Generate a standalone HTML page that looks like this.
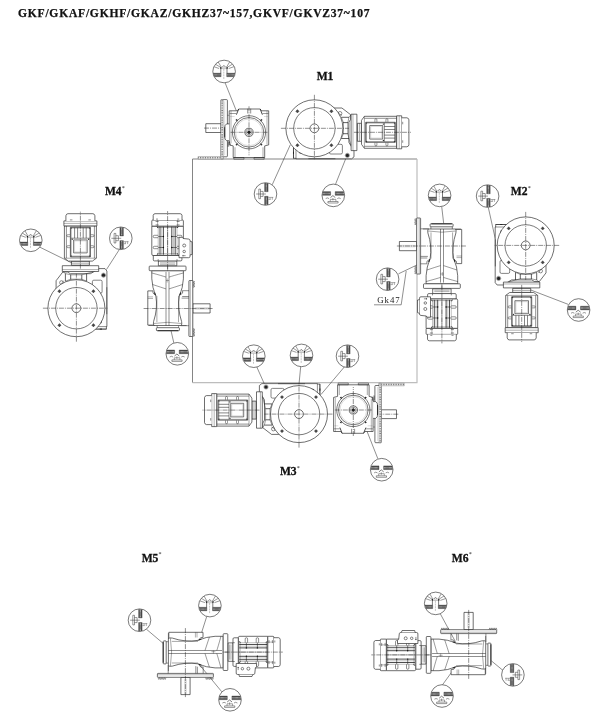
<!DOCTYPE html>
<html lang="en"><head><meta charset="utf-8"><title>GKF mounting positions</title>
<style>html,body{margin:0;padding:0;background:#fff;overflow:hidden}svg{display:block}</style></head>
<body>
<svg width="600" height="724" viewBox="0 0 600 724" fill="none" stroke="#202020" stroke-width="0.65" stroke-linecap="butt" stroke-linejoin="round">
<defs>
<pattern id="hat" width="1.6" height="1.6" patternUnits="userSpaceOnUse"><rect width="1.6" height="1.6" fill="#fff"/><path d="M0,0.8 H0.8 M0.8,0 V0.8" stroke="#888" stroke-width="0.45"/></pattern>
<pattern id="hat2" width="1.2" height="1.2" patternUnits="userSpaceOnUse"><rect width="1.2" height="1.2" fill="#a8a8a8"/><path d="M0,0.6 H1.2" stroke="#555" stroke-width="0.5"/></pattern>
<clipPath id="sc0"><circle cx="0" cy="0" r="11.0"/></clipPath>
</defs>
<path d="M192.5,382.7 V159 H417" stroke-width="0.8" stroke="#666"/>
<path d="M417,159 V382.7 H192.5" stroke-width="1.2" stroke="#bdbdbd"/>
<path d="M225.1,82.8 L236.4,111" stroke-width="0.5"/>
<path d="M272.2,184.8 L290.3,144.8" stroke-width="0.5"/>
<path d="M335.5,184.3 L346.6,156.5" stroke-width="0.5"/>
<path d="M39.5,247 L72,263" stroke-width="0.5"/>
<path d="M119.3,249.6 L106.5,269.5" stroke-width="0.5"/>
<path d="M173.8,342.8 L171.1,331" stroke-width="0.5"/>
<path d="M441.7,206.5 L443.7,223.5" stroke-width="0.5"/>
<path d="M488.3,207.4 L496.9,246" stroke-width="0.5"/>
<path d="M398.5,273.8 L420,263.5" stroke-width="0.5"/>
<path d="M568.3,304.4 L530.8,290" stroke-width="0.5"/>
<path d="M256.8,367 L265.3,386" stroke-width="0.5"/>
<path d="M300.7,366.6 L298.9,385.3" stroke-width="0.5"/>
<path d="M344.3,367 L321,394.5" stroke-width="0.5"/>
<path d="M377.8,458.6 L366.5,430" stroke-width="0.5"/>
<path d="M146.4,629.2 L163.3,643.5" stroke-width="0.5"/>
<path d="M206.7,616.6 L200.2,637" stroke-width="0.5"/>
<path d="M221.8,691.8 L200.2,665.6" stroke-width="0.5"/>
<path d="M440.3,613.8 L455.5,641.8" stroke-width="0.5"/>
<path d="M442.5,684.8 L454.4,668.4" stroke-width="0.5"/>
<path d="M503.2,670.6 L491.3,660.8" stroke-width="0.5"/>
<g transform="translate(249,132.3)">
<rect x="-51" y="24.2" width="25.4" height="2.5" stroke-width="0.4" stroke="#666" fill="#fff"/><path d="M-50.7,25.45 H-25.900000000000002" stroke-width="1.6" stroke="#6a6a6a" stroke-dasharray="0.85 0.85"/>
<rect x="-43.2" y="-8.6" width="15.4" height="8.8" fill="#fff"/>
<path d="M-45,-4.2 H-20" stroke-width="0.5" stroke-dasharray="5 1 1 1"/>
<rect x="-28" y="-32.7" width="6.4" height="57.2" rx="0.8" fill="#fff"/>
<rect x="-28" y="-32.7" width="2.3" height="59.4" stroke-width="0.4" stroke="#666" fill="#fff"/><path d="M-26.85,-32.400000000000006 V26.399999999999995" stroke-width="1.4" stroke="#6a6a6a" stroke-dasharray="0.85 0.85"/>
<path d="M-24.3,-31 V23" stroke-width="0.3" stroke="#8a8a8a"/>
<path d="M-19.8,-21.5 H-11.5 L-10.3,-23.3 H11.2 L12.4,-21.5 H19.7 V12.6 L15.7,13.6 V25.2 H-15.8 V13.6 L-19.8,12.6 Z" fill="#fff"/>
<path d="M-21.6,-17 H-19.8 M-21.6,14 H-19.8" stroke-width="0.4"/>
<path d="M-19.4,-18.8 H-12.8 M13.6,-18.8 H19.4" stroke-width="0.45"/>
<path d="M-19.4,-15.8 H-14.4 M15,-15.8 H19.4" stroke-width="0.3" stroke="#8a8a8a"/>
<path d="M-1.3,-23.6 V-18.8 M1.7,-23.6 V-18.8" stroke-width="0.5"/>
<path d="M-18,-21.5 V11 M18,-21.5 V12.2" stroke-width="0.35"/>
<path d="M-10.3,-23.3 L-12.6,-17.6 M11.2,-23.3 L13.4,-17.6" stroke-width="0.8"/>
<path d="M-14,15 V25.2 M14,15 V25.2" stroke-width="0.4"/>
<path d="M-12.4,11.6 Q0,20.6 12.4,11.6" stroke-width="0.45"/>
<rect x="-15.2" y="25.2" width="10.2" height="1.7" stroke-width="0.5"/>
<rect x="5" y="25.2" width="10.2" height="1.7" stroke-width="0.5"/>
<path d="M-19.8,-8.4 H-22.4 Q-24.4,-7.4 -24.4,-4 V4 Q-24.4,7.4 -22.4,8.4 H-19.8" fill="#fff"/>
<path d="M-24.2,-5 V5" stroke-width="0.9"/>
<path d="M-19.8,9 L-18.6,13 M-20.8,9.6 V13.6" stroke-width="0.7"/>
<circle cx="0" cy="0" r="16.6" stroke-width="0.6" fill="#fff"/>
<circle cx="0" cy="0" r="14.8" stroke-width="0.6"/>
<circle cx="0" cy="0" r="13.4" stroke-width="0.3" stroke="#8a8a8a"/>
<circle cx="0" cy="0" r="4.1" stroke-width="0.65"/>
<circle cx="0" cy="0" r="2.9" stroke-width="0.4"/>
<circle cx="0" cy="0" r="1.5" stroke-width="0.3" fill="#222"/>
<path d="M-11.5,-11.1 L-13.4,-12.399999999999999 L-12.0,-13.2Z" stroke-width="0.2" fill="#111"/>
<path d="M-11.5,11.1 L-13.4,12.399999999999999 L-12.0,13.2Z" stroke-width="0.2" fill="#111"/>
<path d="M11.5,-11.1 L13.4,-12.399999999999999 L12.0,-13.2Z" stroke-width="0.2" fill="#111"/>
<path d="M11.5,11.1 L13.4,12.399999999999999 L12.0,13.2Z" stroke-width="0.2" fill="#111"/>
<path d="M-18.5,0 H18.5" stroke-width="0.5" stroke-dasharray="5 1 1 1"/>
<path d="M0,-26 V23" stroke-width="0.5" stroke-dasharray="5 1 1 1"/>
</g>
<g transform="translate(314.4,128.3)">
<path d="M18,-20.3 H27.5 L36.2,-13.6 V-9 L34.5,-6 V14 L36.2,17 L39.6,22.3 V28.6 L37.2,30.5 H-18.4 V30 H-20.9 V19 " fill="#fff"/>
<rect x="36.7" y="-14.1" width="5.8" height="36.4" fill="#fff"/>
<path d="M38.6,-14.1 V22.3" stroke-width="0.35"/>
<path d="M27,-11 H34.6 M28.6,-5.7 H33.6 M28.6,5.4 H33.6 M27,10.2 H34.6" stroke-width="0.7"/>
<path d="M27,-11 L29,-5.7 V5.4 L27,10.2 M34.6,-11 L33.4,-5.7 V5.4 L34.6,10.2" stroke-width="0.45"/>
<path d="M34.6,-11 L36.5,-13.4 M34.6,10.2 L36.5,17" stroke-width="0.45"/>
<rect x="15" y="16" width="13" height="9.7" rx="1.4" stroke-width="0.55"/>
<path d="M-18.4,19.2 V30.2 M-20.9,19.2 V30.2" stroke-width="0.5"/>
<path d="M-20.9,23.4 V25.6 M-15,24.6 L-11.5,25" stroke-width="0.9"/>
<path d="M-6,30.4 H21" stroke-width="0.5"/>
<circle cx="25.6" cy="-14.9" r="1.9" stroke-width="0.5"/>
<path d="M22.4,-16.4 L27.5,-12.8" stroke-width="0.4"/>
<circle cx="33" cy="27.1" r="1.6" stroke-width="0.4" fill="#222"/>
<circle cx="33" cy="27.1" r="2.2" stroke-width="0.3"/>
<circle cx="0" cy="0" r="28.5" stroke-width="0.65" fill="#fff"/>
<circle cx="0" cy="0" r="20.7" stroke-width="0.6"/>
<circle cx="0" cy="0" r="4.4" stroke-width="0.65"/>
<path d="M-18.7,-17 L-17,-18.7 L-15.3,-17 L-17,-15.3Z" stroke-width="0.3" fill="#444"/>
<path d="M-18.7,17 L-17,15.3 L-15.3,17 L-17,18.7Z" stroke-width="0.3" fill="#444"/>
<path d="M15.3,-17 L17,-18.7 L18.7,-17 L17,-15.3Z" stroke-width="0.3" fill="#444"/>
<path d="M15.3,17 L17,15.3 L18.7,17 L17,18.7Z" stroke-width="0.3" fill="#444"/>
<path d="M-33.5,0 H34.5" stroke-width="0.5" stroke-dasharray="5 1 1 1"/>
<path d="M0,-33.5 V31" stroke-width="0.5" stroke-dasharray="5 1 1 1"/>
<g transform="translate(42.5,4)"><rect x="0.5" y="-9" width="4" height="18" stroke-width="0.65"/>
<path d="M2.5,-9 V9" stroke-width="0.4"/>
<path d="M7.5,-16 H39.8 V16 H7.5 L4.6,12 V-12 Z" fill="#fff"/>
<path d="M7.5,-14 H39.8 M7.5,14 H39.8" stroke-width="0.5"/>
<path d="M7.5,-16 V16" stroke-width="0.4"/>
<rect x="8.8" y="-10" width="29.6" height="20" stroke-width="0.7"/>
<rect x="9.6" y="-9.2" width="28" height="18.4" stroke-width="0.35"/>
<rect x="12.8" y="-6.8" width="13" height="13.6" stroke-width="0.6"/>
<rect x="13.8" y="-5.8" width="11" height="11.6" stroke-width="0.3" stroke="#8a8a8a"/>
<path d="M27.5,-9.2 V9.2" stroke-width="0.5"/>
<path d="M27.5,-5.8 H38" stroke-width="0.55"/>
<path d="M27.5,-2.8 H38" stroke-width="0.55"/>
<path d="M27.5,2.8 H38" stroke-width="0.55"/>
<path d="M27.5,5.8 H38" stroke-width="0.55"/>
<path d="M18,-10.4 V-12.6 a1,1 0 0 1 2,0 V-10.4" stroke-width="0.45"/>
<path d="M18,10.4 V12.6 a1,1 0 0 0 2,0 V10.4" stroke-width="0.45"/>
<path d="M29,-10.4 V-12.6 a1,1 0 0 1 2,0 V-10.4" stroke-width="0.45"/>
<path d="M29,10.4 V12.6 a1,1 0 0 0 2,0 V10.4" stroke-width="0.45"/>
<circle cx="9.6" cy="-9.2" r="0.7" stroke-width="0" fill="#333"/>
<circle cx="37.6" cy="-9.2" r="0.7" stroke-width="0" fill="#333"/>
<circle cx="9.6" cy="9.2" r="0.7" stroke-width="0" fill="#333"/>
<circle cx="37.6" cy="9.2" r="0.7" stroke-width="0" fill="#333"/>
<circle cx="26.5" cy="-8.2" r="0.7" stroke-width="0" fill="#333"/>
<circle cx="26.5" cy="8.2" r="0.7" stroke-width="0" fill="#333"/>
<rect x="39.8" y="-16.5" width="5" height="33" fill="#fff"/>
<path d="M42.3,-16.5 V16.5" stroke-width="0.35"/>
<path d="M44.8,-14.5 H50 Q52,-14 52,-12.5 V12.5 Q52,14 50,14.5 H44.8" fill="#fff"/>
<path d="M45.8,-10.5 V-8 M45.8,8 V10.5" stroke-width="0.5"/>
<path d="M-3,0 H54" stroke-width="0.5" stroke-dasharray="5 1 1 1"/></g>
</g>
<g transform="translate(76.4,308.2) rotate(-90)">
<path d="M18,-20.3 H27.5 L36.2,-13.6 V-9 L34.5,-6 V14 L36.2,17 L39.6,22.3 V28.6 L37.2,30.5 H-18.4 V30 H-20.9 V19 " fill="#fff"/>
<rect x="36.7" y="-14.1" width="5.8" height="36.4" fill="#fff"/>
<path d="M38.6,-14.1 V22.3" stroke-width="0.35"/>
<path d="M27,-11 H34.6 M28.6,-5.7 H33.6 M28.6,5.4 H33.6 M27,10.2 H34.6" stroke-width="0.7"/>
<path d="M27,-11 L29,-5.7 V5.4 L27,10.2 M34.6,-11 L33.4,-5.7 V5.4 L34.6,10.2" stroke-width="0.45"/>
<path d="M34.6,-11 L36.5,-13.4 M34.6,10.2 L36.5,17" stroke-width="0.45"/>
<rect x="15" y="16" width="13" height="9.7" rx="1.4" stroke-width="0.55"/>
<path d="M-18.4,19.2 V30.2 M-20.9,19.2 V30.2" stroke-width="0.5"/>
<path d="M-20.9,23.4 V25.6 M-15,24.6 L-11.5,25" stroke-width="0.9"/>
<path d="M-6,30.4 H21" stroke-width="0.5"/>
<circle cx="25.6" cy="-14.9" r="1.9" stroke-width="0.5"/>
<path d="M22.4,-16.4 L27.5,-12.8" stroke-width="0.4"/>
<circle cx="33" cy="27.1" r="1.6" stroke-width="0.4" fill="#222"/>
<circle cx="33" cy="27.1" r="2.2" stroke-width="0.3"/>
<circle cx="0" cy="0" r="28.5" stroke-width="0.65" fill="#fff"/>
<circle cx="0" cy="0" r="20.7" stroke-width="0.6"/>
<circle cx="0" cy="0" r="4.4" stroke-width="0.65"/>
<path d="M-18.7,-17 L-17,-18.7 L-15.3,-17 L-17,-15.3Z" stroke-width="0.3" fill="#444"/>
<path d="M-18.7,17 L-17,15.3 L-15.3,17 L-17,18.7Z" stroke-width="0.3" fill="#444"/>
<path d="M15.3,-17 L17,-18.7 L18.7,-17 L17,-15.3Z" stroke-width="0.3" fill="#444"/>
<path d="M15.3,17 L17,15.3 L18.7,17 L17,18.7Z" stroke-width="0.3" fill="#444"/>
<path d="M-33.5,0 H34.5" stroke-width="0.5" stroke-dasharray="5 1 1 1"/>
<path d="M0,-33.5 V31" stroke-width="0.5" stroke-dasharray="5 1 1 1"/>
<g transform="translate(42.5,4)"><rect x="0.5" y="-9" width="4" height="18" stroke-width="0.65"/>
<path d="M2.5,-9 V9" stroke-width="0.4"/>
<path d="M7.5,-16 H39.8 V16 H7.5 L4.6,12 V-12 Z" fill="#fff"/>
<path d="M7.5,-14 H39.8 M7.5,14 H39.8" stroke-width="0.5"/>
<path d="M7.5,-16 V16" stroke-width="0.4"/>
<rect x="8.8" y="-10" width="29.6" height="20" stroke-width="0.7"/>
<rect x="9.6" y="-9.2" width="28" height="18.4" stroke-width="0.35"/>
<rect x="12.8" y="-6.8" width="13" height="13.6" stroke-width="0.6"/>
<rect x="13.8" y="-5.8" width="11" height="11.6" stroke-width="0.3" stroke="#8a8a8a"/>
<path d="M27.5,-9.2 V9.2" stroke-width="0.5"/>
<path d="M27.5,-5.8 H38" stroke-width="0.55"/>
<path d="M27.5,-2.8 H38" stroke-width="0.55"/>
<path d="M27.5,2.8 H38" stroke-width="0.55"/>
<path d="M27.5,5.8 H38" stroke-width="0.55"/>
<path d="M18,-10.4 V-12.6 a1,1 0 0 1 2,0 V-10.4" stroke-width="0.45"/>
<path d="M18,10.4 V12.6 a1,1 0 0 0 2,0 V10.4" stroke-width="0.45"/>
<path d="M29,-10.4 V-12.6 a1,1 0 0 1 2,0 V-10.4" stroke-width="0.45"/>
<path d="M29,10.4 V12.6 a1,1 0 0 0 2,0 V10.4" stroke-width="0.45"/>
<circle cx="9.6" cy="-9.2" r="0.7" stroke-width="0" fill="#333"/>
<circle cx="37.6" cy="-9.2" r="0.7" stroke-width="0" fill="#333"/>
<circle cx="9.6" cy="9.2" r="0.7" stroke-width="0" fill="#333"/>
<circle cx="37.6" cy="9.2" r="0.7" stroke-width="0" fill="#333"/>
<circle cx="26.5" cy="-8.2" r="0.7" stroke-width="0" fill="#333"/>
<circle cx="26.5" cy="8.2" r="0.7" stroke-width="0" fill="#333"/>
<rect x="39.8" y="-16.5" width="5" height="33" fill="#fff"/>
<path d="M42.3,-16.5 V16.5" stroke-width="0.35"/>
<path d="M44.8,-14.5 H50 Q52,-14 52,-12.5 V12.5 Q52,14 50,14.5 H44.8" fill="#fff"/>
<path d="M45.8,-10.5 V-8 M45.8,8 V10.5" stroke-width="0.5"/>
<path d="M-3,0 H54" stroke-width="0.5" stroke-dasharray="5 1 1 1"/></g>
</g>
<g transform="translate(167.6,308.5) rotate(-90)">
<rect x="-4.5" y="25.3" width="9.2" height="17.2" fill="#fff"/>
<path d="M-0.6,27 V42.3 M0.8,27 V42.3" stroke-width="0.35" stroke="#8a8a8a"/>
<rect x="-28" y="21.3" width="56" height="3.9" rx="0.6" fill="#fff"/>
<path d="M-17.2,13 V21.3 M17.8,14.6 V21.3 M10.4,14 V21.3 M12,14.6 V21.3" stroke-width="0.5"/>
<path d="M-27.6,22.7 H27.6" stroke-width="0.35"/>
<path d="M-16.6,-13 V-19.8 H17.6 V-14.6" fill="#fff"/>
<path d="M10,-19.8 V-14.6 M11.6,-19.8 V-14.6" stroke-width="0.35"/>
<rect x="-22.2" y="-11.2" width="3" height="23" rx="0.7" fill="#fff"/>
<path d="M-19.2,-10.4 H-17 M-19.2,11 H-17" stroke-width="0.5"/>
<path d="M-17,-13.6 Q-16,-14.6 -13,-14 Q0,-9.6 13,-11.8 Q17,-13.4 21,-14.6 Q30,-16.4 37.8,-15.8 V15.8 Q30,16.4 21,14.6 Q17,13.4 13,11.8 Q0,9.6 -13,14 Q-16,14.6 -17,13.6 Z" fill="#fff"/>
<path d="M-17,-13.6 V-19 M-17,13.6 V19" stroke-width="0.5"/>
<path d="M13,-11.8 L15.4,-14.6 H17.6 M13,11.8 L15.4,15 H17.6" stroke-width="0.55"/>
<path d="M13.4,-12.2 L16,-13.2 M13.4,12.2 L16,13.2" stroke-width="1.0"/>
<path d="M-17,-1.6 H36.6 M-17,1.4 H36.6" stroke-width="0.5"/>
<path d="M-15,-13.8 Q-12.6,0 -15,13.8" stroke-width="0.4"/>
<path d="M24,-15 Q21,-6 19.6,-1.6 M24,15 Q21,6 19.6,1.4" stroke-width="0.45"/>
<path d="M-13.6,-10.7 H12.6 M-13.6,10.9 H12.6" stroke-width="0.4"/>
<path d="M-22.2,-10 V10.6" stroke-width="0.9"/>
<path d="M35.6,-16 Q32.6,-5 31.4,-1.6 M35.6,16 Q32.6,5 31.4,1.4" stroke-width="0.45"/>
<path d="M26,-0.4 H30 M28,-1.6 V1.4" stroke-width="0.35"/>
<rect x="37.8" y="-18.4" width="4.6" height="36.8" rx="0.7" fill="#fff"/>
<path d="M37.8,0 H42.4" stroke-width="0.4"/>
<path d="M0,-24 V45" stroke-width="0.5" stroke-dasharray="5 1 1 1"/>
<g transform="translate(42.4,0)"><rect x="0.4" y="-9.2" width="4.8" height="18.4" fill="#fff"/>
<path d="M1.8,-7.6 V7.6 M3.2,-7.6 V7.6" stroke-width="0.35"/>
<path d="M5.2,-13.2 Q5.2,-14.3 6.4,-14.3 H10.6 V14.3 H6.4 Q5.2,14.3 5.2,13.2 Z" fill="#fff"/>
<path d="M5.2,-9.4 H7 M5.2,9.4 H7" stroke-width="0.5"/>
<path d="M10.6,-14.6 Q10.6,-15.8 12,-15.8 H40 V15.8 H12 Q10.6,15.8 10.6,14.6 Z" fill="#fff"/>
<path d="M11.4,-7.6 H39.4" stroke-width="0.8"/>
<path d="M11.4,-4.2 H39.4" stroke-width="0.8"/>
<path d="M11.4,4.2 H39.4" stroke-width="0.8"/>
<path d="M11.4,7.6 H39.4" stroke-width="0.8"/>
<path d="M11.4,-9.4 H39.4" stroke-width="0.35" stroke="#555"/>
<path d="M11.4,-5.9 H39.4" stroke-width="0.35" stroke="#555"/>
<path d="M11.4,5.9 H39.4" stroke-width="0.35" stroke="#555"/>
<path d="M11.4,9.4 H39.4" stroke-width="0.35" stroke="#555"/>
<path d="M11,0 H39.6" stroke-width="0.35"/>
<path d="M17.400000000000002,-9.4 V-13.2 a1.2,1.2 0 0 1 2.4,0 V-9.4" stroke-width="0.5"/>
<path d="M17.400000000000002,9.4 V13.2 a1.2,1.2 0 0 0 2.4,0 V9.4" stroke-width="0.5"/>
<path d="M18.6,-9.4 V-4.2 M18.6,4.2 V9.4" stroke-width="0.55"/>
<circle cx="18.6" cy="-4.2" r="0.7" stroke-width="0" fill="#111"/>
<circle cx="18.6" cy="4.2" r="0.7" stroke-width="0" fill="#111"/>
<path d="M28.400000000000002,-9.4 V-13.2 a1.2,1.2 0 0 1 2.4,0 V-9.4" stroke-width="0.5"/>
<path d="M28.400000000000002,9.4 V13.2 a1.2,1.2 0 0 0 2.4,0 V9.4" stroke-width="0.5"/>
<path d="M29.6,-9.4 V-4.2 M29.6,4.2 V9.4" stroke-width="0.55"/>
<circle cx="29.6" cy="-4.2" r="0.7" stroke-width="0" fill="#111"/>
<circle cx="29.6" cy="4.2" r="0.7" stroke-width="0" fill="#111"/>
<path d="M12.2,-10.6 V10.6 M38.6,-10.6 V10.6" stroke-width="0.4"/>
<path d="M11.4,-10.8 L12.6,-9.4 M39.4,-10.8 L38.2,-9.4 M11.4,10.8 L12.6,9.4 M39.4,10.8 L38.2,9.4" stroke-width="0.8"/>
<path d="M8.4,11.4 H28.8 V14.2 Q28.8,15.4 27.6,15.6 L27,21.2 Q26.8,22.4 25.6,22.4 H25 L24.2,24.4 H11.6 L11.2,22.4 H9.8 Q8.4,22.4 8.4,21 Z" fill="#fff"/>
<path d="M11.2,22.4 H25" stroke-width="0.4"/>
<circle cx="14.6" cy="16.6" r="1.25" stroke-width="0.55"/>
<circle cx="20.6" cy="16.6" r="1.5" stroke-width="0.55"/>
<path d="M10.4,14.8 V18 M9.6,15.4 H11.2" stroke-width="0.5"/>
<rect x="40" y="-15.8" width="6" height="31.6" rx="0.8" fill="#fff"/>
<path d="M41.2,-12 V-9 M41.2,9 V12 M44.6,-12 V-9 M44.6,9 V12" stroke-width="0.5"/>
<path d="M40,-10 H46 M40,10 H46" stroke-width="0.35"/>
<path d="M46,-14.4 H50.8 Q52.4,-14 52.4,-12.6 V12.6 Q52.4,14 50.8,14.4 H46" fill="#fff"/>
<path d="M47,-11.6 V-9.6 M47,9.6 V11.6" stroke-width="0.5"/>
<path d="M-3,0 H55" stroke-width="0.5" stroke-dasharray="5 1 1 1"/></g>
</g>
<g transform="translate(441.9,246) rotate(90)">
<rect x="-4.5" y="25.3" width="9.2" height="17.2" fill="#fff"/>
<path d="M-0.6,27 V42.3 M0.8,27 V42.3" stroke-width="0.35" stroke="#8a8a8a"/>
<rect x="-28" y="21.3" width="56" height="3.9" rx="0.6" fill="#fff"/>
<path d="M-17.2,13 V21.3 M17.8,14.6 V21.3 M10.4,14 V21.3 M12,14.6 V21.3" stroke-width="0.5"/>
<path d="M-27.6,22.7 H27.6" stroke-width="0.35"/>
<path d="M-16.6,-13 V-19.8 H17.6 V-14.6" fill="#fff"/>
<path d="M10,-19.8 V-14.6 M11.6,-19.8 V-14.6" stroke-width="0.35"/>
<rect x="-22.2" y="-11.2" width="3" height="23" rx="0.7" fill="#fff"/>
<path d="M-19.2,-10.4 H-17 M-19.2,11 H-17" stroke-width="0.5"/>
<path d="M-17,-13.6 Q-16,-14.6 -13,-14 Q0,-9.6 13,-11.8 Q17,-13.4 21,-14.6 Q30,-16.4 37.8,-15.8 V15.8 Q30,16.4 21,14.6 Q17,13.4 13,11.8 Q0,9.6 -13,14 Q-16,14.6 -17,13.6 Z" fill="#fff"/>
<path d="M-17,-13.6 V-19 M-17,13.6 V19" stroke-width="0.5"/>
<path d="M13,-11.8 L15.4,-14.6 H17.6 M13,11.8 L15.4,15 H17.6" stroke-width="0.55"/>
<path d="M13.4,-12.2 L16,-13.2 M13.4,12.2 L16,13.2" stroke-width="1.0"/>
<path d="M-17,-1.6 H36.6 M-17,1.4 H36.6" stroke-width="0.5"/>
<path d="M-15,-13.8 Q-12.6,0 -15,13.8" stroke-width="0.4"/>
<path d="M24,-15 Q21,-6 19.6,-1.6 M24,15 Q21,6 19.6,1.4" stroke-width="0.45"/>
<path d="M-13.6,-10.7 H12.6 M-13.6,10.9 H12.6" stroke-width="0.4"/>
<path d="M-22.2,-10 V10.6" stroke-width="0.9"/>
<path d="M35.6,-16 Q32.6,-5 31.4,-1.6 M35.6,16 Q32.6,5 31.4,1.4" stroke-width="0.45"/>
<path d="M26,-0.4 H30 M28,-1.6 V1.4" stroke-width="0.35"/>
<rect x="37.8" y="-18.4" width="4.6" height="36.8" rx="0.7" fill="#fff"/>
<path d="M37.8,0 H42.4" stroke-width="0.4"/>
<path d="M0,-24 V45" stroke-width="0.5" stroke-dasharray="5 1 1 1"/>
<g transform="translate(42.4,0)"><rect x="0.4" y="-9.2" width="4.8" height="18.4" fill="#fff"/>
<path d="M1.8,-7.6 V7.6 M3.2,-7.6 V7.6" stroke-width="0.35"/>
<path d="M5.2,-13.2 Q5.2,-14.3 6.4,-14.3 H10.6 V14.3 H6.4 Q5.2,14.3 5.2,13.2 Z" fill="#fff"/>
<path d="M5.2,-9.4 H7 M5.2,9.4 H7" stroke-width="0.5"/>
<path d="M10.6,-14.6 Q10.6,-15.8 12,-15.8 H40 V15.8 H12 Q10.6,15.8 10.6,14.6 Z" fill="#fff"/>
<path d="M11.4,-7.6 H39.4" stroke-width="0.8"/>
<path d="M11.4,-4.2 H39.4" stroke-width="0.8"/>
<path d="M11.4,4.2 H39.4" stroke-width="0.8"/>
<path d="M11.4,7.6 H39.4" stroke-width="0.8"/>
<path d="M11.4,-9.4 H39.4" stroke-width="0.35" stroke="#555"/>
<path d="M11.4,-5.9 H39.4" stroke-width="0.35" stroke="#555"/>
<path d="M11.4,5.9 H39.4" stroke-width="0.35" stroke="#555"/>
<path d="M11.4,9.4 H39.4" stroke-width="0.35" stroke="#555"/>
<path d="M11,0 H39.6" stroke-width="0.35"/>
<path d="M17.400000000000002,-9.4 V-13.2 a1.2,1.2 0 0 1 2.4,0 V-9.4" stroke-width="0.5"/>
<path d="M17.400000000000002,9.4 V13.2 a1.2,1.2 0 0 0 2.4,0 V9.4" stroke-width="0.5"/>
<path d="M18.6,-9.4 V-4.2 M18.6,4.2 V9.4" stroke-width="0.55"/>
<circle cx="18.6" cy="-4.2" r="0.7" stroke-width="0" fill="#111"/>
<circle cx="18.6" cy="4.2" r="0.7" stroke-width="0" fill="#111"/>
<path d="M28.400000000000002,-9.4 V-13.2 a1.2,1.2 0 0 1 2.4,0 V-9.4" stroke-width="0.5"/>
<path d="M28.400000000000002,9.4 V13.2 a1.2,1.2 0 0 0 2.4,0 V9.4" stroke-width="0.5"/>
<path d="M29.6,-9.4 V-4.2 M29.6,4.2 V9.4" stroke-width="0.55"/>
<circle cx="29.6" cy="-4.2" r="0.7" stroke-width="0" fill="#111"/>
<circle cx="29.6" cy="4.2" r="0.7" stroke-width="0" fill="#111"/>
<path d="M12.2,-10.6 V10.6 M38.6,-10.6 V10.6" stroke-width="0.4"/>
<path d="M11.4,-10.8 L12.6,-9.4 M39.4,-10.8 L38.2,-9.4 M11.4,10.8 L12.6,9.4 M39.4,10.8 L38.2,9.4" stroke-width="0.8"/>
<path d="M8.4,11.4 H28.8 V14.2 Q28.8,15.4 27.6,15.6 L27,21.2 Q26.8,22.4 25.6,22.4 H25 L24.2,24.4 H11.6 L11.2,22.4 H9.8 Q8.4,22.4 8.4,21 Z" fill="#fff"/>
<path d="M11.2,22.4 H25" stroke-width="0.4"/>
<circle cx="14.6" cy="16.6" r="1.25" stroke-width="0.55"/>
<circle cx="20.6" cy="16.6" r="1.5" stroke-width="0.55"/>
<path d="M10.4,14.8 V18 M9.6,15.4 H11.2" stroke-width="0.5"/>
<rect x="40" y="-15.8" width="6" height="31.6" rx="0.8" fill="#fff"/>
<path d="M41.2,-12 V-9 M41.2,9 V12 M44.6,-12 V-9 M44.6,9 V12" stroke-width="0.5"/>
<path d="M40,-10 H46 M40,10 H46" stroke-width="0.35"/>
<path d="M46,-14.4 H50.8 Q52.4,-14 52.4,-12.6 V12.6 Q52.4,14 50.8,14.4 H46" fill="#fff"/>
<path d="M47,-11.6 V-9.6 M47,9.6 V11.6" stroke-width="0.5"/>
<path d="M-3,0 H55" stroke-width="0.5" stroke-dasharray="5 1 1 1"/></g>
</g>
<g transform="translate(525.7,245.4) rotate(90)">
<path d="M18,-20.3 H27.5 L36.2,-13.6 V-9 L34.5,-6 V14 L36.2,17 L39.6,22.3 V28.6 L37.2,30.5 H-18.4 V30 H-20.9 V19 " fill="#fff"/>
<rect x="36.7" y="-14.1" width="5.8" height="36.4" fill="#fff"/>
<path d="M38.6,-14.1 V22.3" stroke-width="0.35"/>
<path d="M27,-11 H34.6 M28.6,-5.7 H33.6 M28.6,5.4 H33.6 M27,10.2 H34.6" stroke-width="0.7"/>
<path d="M27,-11 L29,-5.7 V5.4 L27,10.2 M34.6,-11 L33.4,-5.7 V5.4 L34.6,10.2" stroke-width="0.45"/>
<path d="M34.6,-11 L36.5,-13.4 M34.6,10.2 L36.5,17" stroke-width="0.45"/>
<rect x="15" y="16" width="13" height="9.7" rx="1.4" stroke-width="0.55"/>
<path d="M-18.4,19.2 V30.2 M-20.9,19.2 V30.2" stroke-width="0.5"/>
<path d="M-20.9,23.4 V25.6 M-15,24.6 L-11.5,25" stroke-width="0.9"/>
<path d="M-6,30.4 H21" stroke-width="0.5"/>
<circle cx="25.6" cy="-14.9" r="1.9" stroke-width="0.5"/>
<path d="M22.4,-16.4 L27.5,-12.8" stroke-width="0.4"/>
<circle cx="33" cy="27.1" r="1.6" stroke-width="0.4" fill="#222"/>
<circle cx="33" cy="27.1" r="2.2" stroke-width="0.3"/>
<circle cx="0" cy="0" r="28.5" stroke-width="0.65" fill="#fff"/>
<circle cx="0" cy="0" r="20.7" stroke-width="0.6"/>
<circle cx="0" cy="0" r="4.4" stroke-width="0.65"/>
<path d="M-18.7,-17 L-17,-18.7 L-15.3,-17 L-17,-15.3Z" stroke-width="0.3" fill="#444"/>
<path d="M-18.7,17 L-17,15.3 L-15.3,17 L-17,18.7Z" stroke-width="0.3" fill="#444"/>
<path d="M15.3,-17 L17,-18.7 L18.7,-17 L17,-15.3Z" stroke-width="0.3" fill="#444"/>
<path d="M15.3,17 L17,15.3 L18.7,17 L17,18.7Z" stroke-width="0.3" fill="#444"/>
<path d="M-33.5,0 H34.5" stroke-width="0.5" stroke-dasharray="5 1 1 1"/>
<path d="M0,-33.5 V31" stroke-width="0.5" stroke-dasharray="5 1 1 1"/>
<g transform="translate(42.5,4)"><rect x="0.5" y="-9" width="4" height="18" stroke-width="0.65"/>
<path d="M2.5,-9 V9" stroke-width="0.4"/>
<path d="M7.5,-16 H39.8 V16 H7.5 L4.6,12 V-12 Z" fill="#fff"/>
<path d="M7.5,-14 H39.8 M7.5,14 H39.8" stroke-width="0.5"/>
<path d="M7.5,-16 V16" stroke-width="0.4"/>
<rect x="8.8" y="-10" width="29.6" height="20" stroke-width="0.7"/>
<rect x="9.6" y="-9.2" width="28" height="18.4" stroke-width="0.35"/>
<rect x="12.8" y="-6.8" width="13" height="13.6" stroke-width="0.6"/>
<rect x="13.8" y="-5.8" width="11" height="11.6" stroke-width="0.3" stroke="#8a8a8a"/>
<path d="M27.5,-9.2 V9.2" stroke-width="0.5"/>
<path d="M27.5,-5.8 H38" stroke-width="0.55"/>
<path d="M27.5,-2.8 H38" stroke-width="0.55"/>
<path d="M27.5,2.8 H38" stroke-width="0.55"/>
<path d="M27.5,5.8 H38" stroke-width="0.55"/>
<path d="M18,-10.4 V-12.6 a1,1 0 0 1 2,0 V-10.4" stroke-width="0.45"/>
<path d="M18,10.4 V12.6 a1,1 0 0 0 2,0 V10.4" stroke-width="0.45"/>
<path d="M29,-10.4 V-12.6 a1,1 0 0 1 2,0 V-10.4" stroke-width="0.45"/>
<path d="M29,10.4 V12.6 a1,1 0 0 0 2,0 V10.4" stroke-width="0.45"/>
<circle cx="9.6" cy="-9.2" r="0.7" stroke-width="0" fill="#333"/>
<circle cx="37.6" cy="-9.2" r="0.7" stroke-width="0" fill="#333"/>
<circle cx="9.6" cy="9.2" r="0.7" stroke-width="0" fill="#333"/>
<circle cx="37.6" cy="9.2" r="0.7" stroke-width="0" fill="#333"/>
<circle cx="26.5" cy="-8.2" r="0.7" stroke-width="0" fill="#333"/>
<circle cx="26.5" cy="8.2" r="0.7" stroke-width="0" fill="#333"/>
<rect x="39.8" y="-16.5" width="5" height="33" fill="#fff"/>
<path d="M42.3,-16.5 V16.5" stroke-width="0.35"/>
<path d="M44.8,-14.5 H50 Q52,-14 52,-12.5 V12.5 Q52,14 50,14.5 H44.8" fill="#fff"/>
<path d="M45.8,-10.5 V-8 M45.8,8 V10.5" stroke-width="0.5"/>
<path d="M-3,0 H54" stroke-width="0.5" stroke-dasharray="5 1 1 1"/></g>
</g>
<g transform="translate(299,414.1) rotate(180)">
<path d="M18,-20.3 H27.5 L36.2,-13.6 V-9 L34.5,-6 V14 L36.2,17 L39.6,22.3 V28.6 L37.2,30.5 H-18.4 V30 H-20.9 V19 " fill="#fff"/>
<rect x="36.7" y="-14.1" width="5.8" height="36.4" fill="#fff"/>
<path d="M38.6,-14.1 V22.3" stroke-width="0.35"/>
<path d="M27,-11 H34.6 M28.6,-5.7 H33.6 M28.6,5.4 H33.6 M27,10.2 H34.6" stroke-width="0.7"/>
<path d="M27,-11 L29,-5.7 V5.4 L27,10.2 M34.6,-11 L33.4,-5.7 V5.4 L34.6,10.2" stroke-width="0.45"/>
<path d="M34.6,-11 L36.5,-13.4 M34.6,10.2 L36.5,17" stroke-width="0.45"/>
<rect x="15" y="16" width="13" height="9.7" rx="1.4" stroke-width="0.55"/>
<path d="M-18.4,19.2 V30.2 M-20.9,19.2 V30.2" stroke-width="0.5"/>
<path d="M-20.9,23.4 V25.6 M-15,24.6 L-11.5,25" stroke-width="0.9"/>
<path d="M-6,30.4 H21" stroke-width="0.5"/>
<circle cx="25.6" cy="-14.9" r="1.9" stroke-width="0.5"/>
<path d="M22.4,-16.4 L27.5,-12.8" stroke-width="0.4"/>
<circle cx="33" cy="27.1" r="1.6" stroke-width="0.4" fill="#222"/>
<circle cx="33" cy="27.1" r="2.2" stroke-width="0.3"/>
<circle cx="0" cy="0" r="28.5" stroke-width="0.65" fill="#fff"/>
<circle cx="0" cy="0" r="20.7" stroke-width="0.6"/>
<circle cx="0" cy="0" r="4.4" stroke-width="0.65"/>
<path d="M-18.7,-17 L-17,-18.7 L-15.3,-17 L-17,-15.3Z" stroke-width="0.3" fill="#444"/>
<path d="M-18.7,17 L-17,15.3 L-15.3,17 L-17,18.7Z" stroke-width="0.3" fill="#444"/>
<path d="M15.3,-17 L17,-18.7 L18.7,-17 L17,-15.3Z" stroke-width="0.3" fill="#444"/>
<path d="M15.3,17 L17,15.3 L18.7,17 L17,18.7Z" stroke-width="0.3" fill="#444"/>
<path d="M-33.5,0 H34.5" stroke-width="0.5" stroke-dasharray="5 1 1 1"/>
<path d="M0,-33.5 V31" stroke-width="0.5" stroke-dasharray="5 1 1 1"/>
<g transform="translate(42.5,4)"><rect x="0.5" y="-9" width="4" height="18" stroke-width="0.65"/>
<path d="M2.5,-9 V9" stroke-width="0.4"/>
<path d="M7.5,-16 H39.8 V16 H7.5 L4.6,12 V-12 Z" fill="#fff"/>
<path d="M7.5,-14 H39.8 M7.5,14 H39.8" stroke-width="0.5"/>
<path d="M7.5,-16 V16" stroke-width="0.4"/>
<rect x="8.8" y="-10" width="29.6" height="20" stroke-width="0.7"/>
<rect x="9.6" y="-9.2" width="28" height="18.4" stroke-width="0.35"/>
<rect x="12.8" y="-6.8" width="13" height="13.6" stroke-width="0.6"/>
<rect x="13.8" y="-5.8" width="11" height="11.6" stroke-width="0.3" stroke="#8a8a8a"/>
<path d="M27.5,-9.2 V9.2" stroke-width="0.5"/>
<path d="M27.5,-5.8 H38" stroke-width="0.55"/>
<path d="M27.5,-2.8 H38" stroke-width="0.55"/>
<path d="M27.5,2.8 H38" stroke-width="0.55"/>
<path d="M27.5,5.8 H38" stroke-width="0.55"/>
<path d="M18,-10.4 V-12.6 a1,1 0 0 1 2,0 V-10.4" stroke-width="0.45"/>
<path d="M18,10.4 V12.6 a1,1 0 0 0 2,0 V10.4" stroke-width="0.45"/>
<path d="M29,-10.4 V-12.6 a1,1 0 0 1 2,0 V-10.4" stroke-width="0.45"/>
<path d="M29,10.4 V12.6 a1,1 0 0 0 2,0 V10.4" stroke-width="0.45"/>
<circle cx="9.6" cy="-9.2" r="0.7" stroke-width="0" fill="#333"/>
<circle cx="37.6" cy="-9.2" r="0.7" stroke-width="0" fill="#333"/>
<circle cx="9.6" cy="9.2" r="0.7" stroke-width="0" fill="#333"/>
<circle cx="37.6" cy="9.2" r="0.7" stroke-width="0" fill="#333"/>
<circle cx="26.5" cy="-8.2" r="0.7" stroke-width="0" fill="#333"/>
<circle cx="26.5" cy="8.2" r="0.7" stroke-width="0" fill="#333"/>
<rect x="39.8" y="-16.5" width="5" height="33" fill="#fff"/>
<path d="M42.3,-16.5 V16.5" stroke-width="0.35"/>
<path d="M44.8,-14.5 H50 Q52,-14 52,-12.5 V12.5 Q52,14 50,14.5 H44.8" fill="#fff"/>
<path d="M45.8,-10.5 V-8 M45.8,8 V10.5" stroke-width="0.5"/>
<path d="M-3,0 H54" stroke-width="0.5" stroke-dasharray="5 1 1 1"/></g>
</g>
<g transform="translate(353.3,410) rotate(180)">
<rect x="-51" y="24.2" width="25.4" height="2.5" stroke-width="0.4" stroke="#666" fill="#fff"/><path d="M-50.7,25.45 H-25.900000000000002" stroke-width="1.6" stroke="#6a6a6a" stroke-dasharray="0.85 0.85"/>
<rect x="-43.2" y="-8.6" width="15.4" height="8.8" fill="#fff"/>
<path d="M-45,-4.2 H-20" stroke-width="0.5" stroke-dasharray="5 1 1 1"/>
<rect x="-28" y="-32.7" width="6.4" height="57.2" rx="0.8" fill="#fff"/>
<rect x="-28" y="-32.7" width="2.3" height="59.4" stroke-width="0.4" stroke="#666" fill="#fff"/><path d="M-26.85,-32.400000000000006 V26.399999999999995" stroke-width="1.4" stroke="#6a6a6a" stroke-dasharray="0.85 0.85"/>
<path d="M-24.3,-31 V23" stroke-width="0.3" stroke="#8a8a8a"/>
<path d="M-19.8,-21.5 H-11.5 L-10.3,-23.3 H11.2 L12.4,-21.5 H19.7 V12.6 L15.7,13.6 V25.2 H-15.8 V13.6 L-19.8,12.6 Z" fill="#fff"/>
<path d="M-21.6,-17 H-19.8 M-21.6,14 H-19.8" stroke-width="0.4"/>
<path d="M-19.4,-18.8 H-12.8 M13.6,-18.8 H19.4" stroke-width="0.45"/>
<path d="M-19.4,-15.8 H-14.4 M15,-15.8 H19.4" stroke-width="0.3" stroke="#8a8a8a"/>
<path d="M-1.3,-23.6 V-18.8 M1.7,-23.6 V-18.8" stroke-width="0.5"/>
<path d="M-18,-21.5 V11 M18,-21.5 V12.2" stroke-width="0.35"/>
<path d="M-10.3,-23.3 L-12.6,-17.6 M11.2,-23.3 L13.4,-17.6" stroke-width="0.8"/>
<path d="M-14,15 V25.2 M14,15 V25.2" stroke-width="0.4"/>
<path d="M-12.4,11.6 Q0,20.6 12.4,11.6" stroke-width="0.45"/>
<rect x="-15.2" y="25.2" width="10.2" height="1.7" stroke-width="0.5"/>
<rect x="5" y="25.2" width="10.2" height="1.7" stroke-width="0.5"/>
<path d="M-19.8,-8.4 H-22.4 Q-24.4,-7.4 -24.4,-4 V4 Q-24.4,7.4 -22.4,8.4 H-19.8" fill="#fff"/>
<path d="M-24.2,-5 V5" stroke-width="0.9"/>
<path d="M-19.8,9 L-18.6,13 M-20.8,9.6 V13.6" stroke-width="0.7"/>
<circle cx="0" cy="0" r="16.6" stroke-width="0.6" fill="#fff"/>
<circle cx="0" cy="0" r="14.8" stroke-width="0.6"/>
<circle cx="0" cy="0" r="13.4" stroke-width="0.3" stroke="#8a8a8a"/>
<circle cx="0" cy="0" r="4.1" stroke-width="0.65"/>
<circle cx="0" cy="0" r="2.9" stroke-width="0.4"/>
<circle cx="0" cy="0" r="1.5" stroke-width="0.3" fill="#222"/>
<path d="M-11.5,-11.1 L-13.4,-12.399999999999999 L-12.0,-13.2Z" stroke-width="0.2" fill="#111"/>
<path d="M-11.5,11.1 L-13.4,12.399999999999999 L-12.0,13.2Z" stroke-width="0.2" fill="#111"/>
<path d="M11.5,-11.1 L13.4,-12.399999999999999 L12.0,-13.2Z" stroke-width="0.2" fill="#111"/>
<path d="M11.5,11.1 L13.4,12.399999999999999 L12.0,13.2Z" stroke-width="0.2" fill="#111"/>
<path d="M-18.5,0 H18.5" stroke-width="0.5" stroke-dasharray="5 1 1 1"/>
<path d="M0,-26 V23" stroke-width="0.5" stroke-dasharray="5 1 1 1"/>
</g>
<g transform="translate(185.4,652.1)">
<rect x="-4.5" y="25.3" width="9.2" height="17.2" fill="#fff"/>
<path d="M-0.6,27 V42.3 M0.8,27 V42.3" stroke-width="0.35" stroke="#8a8a8a"/>
<rect x="-28" y="21.3" width="56" height="3.9" rx="0.6" fill="#fff"/>
<path d="M-17.2,13 V21.3 M17.8,14.6 V21.3 M10.4,14 V21.3 M12,14.6 V21.3" stroke-width="0.5"/>
<path d="M-27.6,22.7 H27.6" stroke-width="0.35"/>
<path d="M-16.6,-13 V-19.8 H17.6 V-14.6" fill="#fff"/>
<path d="M10,-19.8 V-14.6 M11.6,-19.8 V-14.6" stroke-width="0.35"/>
<rect x="-22.2" y="-11.2" width="3" height="23" rx="0.7" fill="#fff"/>
<path d="M-19.2,-10.4 H-17 M-19.2,11 H-17" stroke-width="0.5"/>
<path d="M-17,-13.6 Q-16,-14.6 -13,-14 Q0,-9.6 13,-11.8 Q17,-13.4 21,-14.6 Q30,-16.4 37.8,-15.8 V15.8 Q30,16.4 21,14.6 Q17,13.4 13,11.8 Q0,9.6 -13,14 Q-16,14.6 -17,13.6 Z" fill="#fff"/>
<path d="M-17,-13.6 V-19 M-17,13.6 V19" stroke-width="0.5"/>
<path d="M13,-11.8 L15.4,-14.6 H17.6 M13,11.8 L15.4,15 H17.6" stroke-width="0.55"/>
<path d="M13.4,-12.2 L16,-13.2 M13.4,12.2 L16,13.2" stroke-width="1.0"/>
<path d="M-17,-1.6 H36.6 M-17,1.4 H36.6" stroke-width="0.5"/>
<path d="M-15,-13.8 Q-12.6,0 -15,13.8" stroke-width="0.4"/>
<path d="M24,-15 Q21,-6 19.6,-1.6 M24,15 Q21,6 19.6,1.4" stroke-width="0.45"/>
<path d="M-13.6,-10.7 H12.6 M-13.6,10.9 H12.6" stroke-width="0.4"/>
<path d="M-22.2,-10 V10.6" stroke-width="0.9"/>
<path d="M35.6,-16 Q32.6,-5 31.4,-1.6 M35.6,16 Q32.6,5 31.4,1.4" stroke-width="0.45"/>
<path d="M26,-0.4 H30 M28,-1.6 V1.4" stroke-width="0.35"/>
<rect x="37.8" y="-18.4" width="4.6" height="36.8" rx="0.7" fill="#fff"/>
<path d="M37.8,0 H42.4" stroke-width="0.4"/>
<path d="M0,-24 V45" stroke-width="0.5" stroke-dasharray="5 1 1 1"/>
<g transform="translate(42.4,0)"><rect x="0.4" y="-9.2" width="4.8" height="18.4" fill="#fff"/>
<path d="M1.8,-7.6 V7.6 M3.2,-7.6 V7.6" stroke-width="0.35"/>
<path d="M5.2,-13.2 Q5.2,-14.3 6.4,-14.3 H10.6 V14.3 H6.4 Q5.2,14.3 5.2,13.2 Z" fill="#fff"/>
<path d="M5.2,-9.4 H7 M5.2,9.4 H7" stroke-width="0.5"/>
<path d="M10.6,-14.6 Q10.6,-15.8 12,-15.8 H40 V15.8 H12 Q10.6,15.8 10.6,14.6 Z" fill="#fff"/>
<path d="M11.4,-7.6 H39.4" stroke-width="0.8"/>
<path d="M11.4,-4.2 H39.4" stroke-width="0.8"/>
<path d="M11.4,4.2 H39.4" stroke-width="0.8"/>
<path d="M11.4,7.6 H39.4" stroke-width="0.8"/>
<path d="M11.4,-9.4 H39.4" stroke-width="0.35" stroke="#555"/>
<path d="M11.4,-5.9 H39.4" stroke-width="0.35" stroke="#555"/>
<path d="M11.4,5.9 H39.4" stroke-width="0.35" stroke="#555"/>
<path d="M11.4,9.4 H39.4" stroke-width="0.35" stroke="#555"/>
<path d="M11,0 H39.6" stroke-width="0.35"/>
<path d="M17.400000000000002,-9.4 V-13.2 a1.2,1.2 0 0 1 2.4,0 V-9.4" stroke-width="0.5"/>
<path d="M17.400000000000002,9.4 V13.2 a1.2,1.2 0 0 0 2.4,0 V9.4" stroke-width="0.5"/>
<path d="M18.6,-9.4 V-4.2 M18.6,4.2 V9.4" stroke-width="0.55"/>
<circle cx="18.6" cy="-4.2" r="0.7" stroke-width="0" fill="#111"/>
<circle cx="18.6" cy="4.2" r="0.7" stroke-width="0" fill="#111"/>
<path d="M28.400000000000002,-9.4 V-13.2 a1.2,1.2 0 0 1 2.4,0 V-9.4" stroke-width="0.5"/>
<path d="M28.400000000000002,9.4 V13.2 a1.2,1.2 0 0 0 2.4,0 V9.4" stroke-width="0.5"/>
<path d="M29.6,-9.4 V-4.2 M29.6,4.2 V9.4" stroke-width="0.55"/>
<circle cx="29.6" cy="-4.2" r="0.7" stroke-width="0" fill="#111"/>
<circle cx="29.6" cy="4.2" r="0.7" stroke-width="0" fill="#111"/>
<path d="M12.2,-10.6 V10.6 M38.6,-10.6 V10.6" stroke-width="0.4"/>
<path d="M11.4,-10.8 L12.6,-9.4 M39.4,-10.8 L38.2,-9.4 M11.4,10.8 L12.6,9.4 M39.4,10.8 L38.2,9.4" stroke-width="0.8"/>
<path d="M8.4,11.4 H28.8 V14.2 Q28.8,15.4 27.6,15.6 L27,21.2 Q26.8,22.4 25.6,22.4 H25 L24.2,24.4 H11.6 L11.2,22.4 H9.8 Q8.4,22.4 8.4,21 Z" fill="#fff"/>
<path d="M11.2,22.4 H25" stroke-width="0.4"/>
<circle cx="14.6" cy="16.6" r="1.25" stroke-width="0.55"/>
<circle cx="20.6" cy="16.6" r="1.5" stroke-width="0.55"/>
<path d="M10.4,14.8 V18 M9.6,15.4 H11.2" stroke-width="0.5"/>
<rect x="40" y="-15.8" width="6" height="31.6" rx="0.8" fill="#fff"/>
<path d="M41.2,-12 V-9 M41.2,9 V12 M44.6,-12 V-9 M44.6,9 V12" stroke-width="0.5"/>
<path d="M40,-10 H46 M40,10 H46" stroke-width="0.35"/>
<path d="M46,-14.4 H50.8 Q52.4,-14 52.4,-12.6 V12.6 Q52.4,14 50.8,14.4 H46" fill="#fff"/>
<path d="M47,-11.6 V-9.6 M47,9.6 V11.6" stroke-width="0.5"/>
<path d="M-3,0 H55" stroke-width="0.5" stroke-dasharray="5 1 1 1"/></g>
</g>
<g transform="translate(468.7,654.9) rotate(180)">
<rect x="-4.5" y="25.3" width="9.2" height="17.2" fill="#fff"/>
<path d="M-0.6,27 V42.3 M0.8,27 V42.3" stroke-width="0.35" stroke="#8a8a8a"/>
<rect x="-28" y="21.3" width="56" height="3.9" rx="0.6" fill="#fff"/>
<path d="M-17.2,13 V21.3 M17.8,14.6 V21.3 M10.4,14 V21.3 M12,14.6 V21.3" stroke-width="0.5"/>
<path d="M-27.6,22.7 H27.6" stroke-width="0.35"/>
<path d="M-16.6,-13 V-19.8 H17.6 V-14.6" fill="#fff"/>
<path d="M10,-19.8 V-14.6 M11.6,-19.8 V-14.6" stroke-width="0.35"/>
<rect x="-22.2" y="-11.2" width="3" height="23" rx="0.7" fill="#fff"/>
<path d="M-19.2,-10.4 H-17 M-19.2,11 H-17" stroke-width="0.5"/>
<path d="M-17,-13.6 Q-16,-14.6 -13,-14 Q0,-9.6 13,-11.8 Q17,-13.4 21,-14.6 Q30,-16.4 37.8,-15.8 V15.8 Q30,16.4 21,14.6 Q17,13.4 13,11.8 Q0,9.6 -13,14 Q-16,14.6 -17,13.6 Z" fill="#fff"/>
<path d="M-17,-13.6 V-19 M-17,13.6 V19" stroke-width="0.5"/>
<path d="M13,-11.8 L15.4,-14.6 H17.6 M13,11.8 L15.4,15 H17.6" stroke-width="0.55"/>
<path d="M13.4,-12.2 L16,-13.2 M13.4,12.2 L16,13.2" stroke-width="1.0"/>
<path d="M-17,-1.6 H36.6 M-17,1.4 H36.6" stroke-width="0.5"/>
<path d="M-15,-13.8 Q-12.6,0 -15,13.8" stroke-width="0.4"/>
<path d="M24,-15 Q21,-6 19.6,-1.6 M24,15 Q21,6 19.6,1.4" stroke-width="0.45"/>
<path d="M-13.6,-10.7 H12.6 M-13.6,10.9 H12.6" stroke-width="0.4"/>
<path d="M-22.2,-10 V10.6" stroke-width="0.9"/>
<path d="M35.6,-16 Q32.6,-5 31.4,-1.6 M35.6,16 Q32.6,5 31.4,1.4" stroke-width="0.45"/>
<path d="M26,-0.4 H30 M28,-1.6 V1.4" stroke-width="0.35"/>
<rect x="37.8" y="-18.4" width="4.6" height="36.8" rx="0.7" fill="#fff"/>
<path d="M37.8,0 H42.4" stroke-width="0.4"/>
<path d="M0,-24 V45" stroke-width="0.5" stroke-dasharray="5 1 1 1"/>
<g transform="translate(42.4,0)"><rect x="0.4" y="-9.2" width="4.8" height="18.4" fill="#fff"/>
<path d="M1.8,-7.6 V7.6 M3.2,-7.6 V7.6" stroke-width="0.35"/>
<path d="M5.2,-13.2 Q5.2,-14.3 6.4,-14.3 H10.6 V14.3 H6.4 Q5.2,14.3 5.2,13.2 Z" fill="#fff"/>
<path d="M5.2,-9.4 H7 M5.2,9.4 H7" stroke-width="0.5"/>
<path d="M10.6,-14.6 Q10.6,-15.8 12,-15.8 H40 V15.8 H12 Q10.6,15.8 10.6,14.6 Z" fill="#fff"/>
<path d="M11.4,-7.6 H39.4" stroke-width="0.8"/>
<path d="M11.4,-4.2 H39.4" stroke-width="0.8"/>
<path d="M11.4,4.2 H39.4" stroke-width="0.8"/>
<path d="M11.4,7.6 H39.4" stroke-width="0.8"/>
<path d="M11.4,-9.4 H39.4" stroke-width="0.35" stroke="#555"/>
<path d="M11.4,-5.9 H39.4" stroke-width="0.35" stroke="#555"/>
<path d="M11.4,5.9 H39.4" stroke-width="0.35" stroke="#555"/>
<path d="M11.4,9.4 H39.4" stroke-width="0.35" stroke="#555"/>
<path d="M11,0 H39.6" stroke-width="0.35"/>
<path d="M17.400000000000002,-9.4 V-13.2 a1.2,1.2 0 0 1 2.4,0 V-9.4" stroke-width="0.5"/>
<path d="M17.400000000000002,9.4 V13.2 a1.2,1.2 0 0 0 2.4,0 V9.4" stroke-width="0.5"/>
<path d="M18.6,-9.4 V-4.2 M18.6,4.2 V9.4" stroke-width="0.55"/>
<circle cx="18.6" cy="-4.2" r="0.7" stroke-width="0" fill="#111"/>
<circle cx="18.6" cy="4.2" r="0.7" stroke-width="0" fill="#111"/>
<path d="M28.400000000000002,-9.4 V-13.2 a1.2,1.2 0 0 1 2.4,0 V-9.4" stroke-width="0.5"/>
<path d="M28.400000000000002,9.4 V13.2 a1.2,1.2 0 0 0 2.4,0 V9.4" stroke-width="0.5"/>
<path d="M29.6,-9.4 V-4.2 M29.6,4.2 V9.4" stroke-width="0.55"/>
<circle cx="29.6" cy="-4.2" r="0.7" stroke-width="0" fill="#111"/>
<circle cx="29.6" cy="4.2" r="0.7" stroke-width="0" fill="#111"/>
<path d="M12.2,-10.6 V10.6 M38.6,-10.6 V10.6" stroke-width="0.4"/>
<path d="M11.4,-10.8 L12.6,-9.4 M39.4,-10.8 L38.2,-9.4 M11.4,10.8 L12.6,9.4 M39.4,10.8 L38.2,9.4" stroke-width="0.8"/>
<path d="M8.4,11.4 H28.8 V14.2 Q28.8,15.4 27.6,15.6 L27,21.2 Q26.8,22.4 25.6,22.4 H25 L24.2,24.4 H11.6 L11.2,22.4 H9.8 Q8.4,22.4 8.4,21 Z" fill="#fff"/>
<path d="M11.2,22.4 H25" stroke-width="0.4"/>
<circle cx="14.6" cy="16.6" r="1.25" stroke-width="0.55"/>
<circle cx="20.6" cy="16.6" r="1.5" stroke-width="0.55"/>
<path d="M10.4,14.8 V18 M9.6,15.4 H11.2" stroke-width="0.5"/>
<rect x="40" y="-15.8" width="6" height="31.6" rx="0.8" fill="#fff"/>
<path d="M41.2,-12 V-9 M41.2,9 V12 M44.6,-12 V-9 M44.6,9 V12" stroke-width="0.5"/>
<path d="M40,-10 H46 M40,10 H46" stroke-width="0.35"/>
<path d="M46,-14.4 H50.8 Q52.4,-14 52.4,-12.6 V12.6 Q52.4,14 50.8,14.4 H46" fill="#fff"/>
<path d="M47,-11.6 V-9.6 M47,9.6 V11.6" stroke-width="0.5"/>
<path d="M-3,0 H55" stroke-width="0.5" stroke-dasharray="5 1 1 1"/></g>
</g>
<path d="M193,281 l1.8,0.8 l-1.8,0.8 l1.8,0.8 l-1.8,0.8 l1.8,0.8 l-1.8,0.8 l1.8,0.8 l-1.8,0.8" stroke-width="0.5" stroke="#444"/>
<path d="M193,328.5 l1.8,0.8 l-1.8,0.8 l1.8,0.8 l-1.8,0.8 l1.8,0.8 l-1.8,0.8 l1.8,0.8 l-1.8,0.8 l1.8,0.8 l-1.8,0.8" stroke-width="0.5" stroke="#444"/>
<path d="M416.4,218.5 l-1.8,0.8 l1.8,0.8 l-1.8,0.8 l1.8,0.8 l-1.8,0.8 l1.8,0.8 l-1.8,0.8 l1.8,0.8" stroke-width="0.5" stroke="#444"/>
<path d="M416.4,266 l-1.8,0.8 l1.8,0.8 l-1.8,0.8 l1.8,0.8 l-1.8,0.8 l1.8,0.8 l-1.8,0.8 l1.8,0.8 l-1.8,0.8 l1.8,0.8" stroke-width="0.5" stroke="#444"/>
<path d="M158,677.6 l0.8,1.9 l0.8,-1.9 l0.8,1.9 l0.8,-1.9 l0.8,1.9 l0.8,-1.9 l0.8,1.9 l0.8,-1.9 l0.8,1.9 l0.8,-1.9" stroke-width="0.5" stroke="#444"/>
<path d="M205.5,677.6 l0.8,1.9 l0.8,-1.9 l0.8,1.9 l0.8,-1.9 l0.8,1.9 l0.8,-1.9 l0.8,1.9 l0.8,-1.9 l0.8,1.9 l0.8,-1.9" stroke-width="0.5" stroke="#444"/>
<path d="M441,629.8 l0.8,-1.9 l0.8,1.9 l0.8,-1.9 l0.8,1.9 l0.8,-1.9 l0.8,1.9 l0.8,-1.9 l0.8,1.9 l0.8,-1.9 l0.8,1.9" stroke-width="0.5" stroke="#444"/>
<path d="M489,629.8 l0.8,-1.9 l0.8,1.9 l0.8,-1.9 l0.8,1.9 l0.8,-1.9 l0.8,1.9 l0.8,-1.9 l0.8,1.9 l0.8,-1.9 l0.8,1.9" stroke-width="0.5" stroke="#444"/>
<path d="M374,304.8 H401.2 L406.2,271" stroke-width="0.5"/>
<g transform="translate(224.1,71.5)">
<circle cx="0" cy="0" r="11.3" stroke-width="0.6" fill="#fff"/>
<g clip-path="url(#sc0)">
<rect x="-12" y="1.7" width="9" height="3.5" stroke-width="0.3" stroke="#2a2a2a" fill="#4c4c4c"/><path d="M-11.4,3.45 H-3.4" stroke-width="1.2999999999999998" stroke="#b4b4b4" stroke-dasharray="0.7 0.5"/>
<rect x="2.6" y="1.7" width="10" height="3.5" stroke-width="0.3" stroke="#2a2a2a" fill="#4c4c4c"/><path d="M3.2,3.45 H12.2" stroke-width="1.2999999999999998" stroke="#b4b4b4" stroke-dasharray="0.7 0.5"/>
<path d="M-3.3,1.7 V-3 M2.9,1.7 V-3" stroke-width="0.6"/>
<path d="M-3.4,-2.9 H3 M-3.4,-4.3 H3" stroke-width="0.35" stroke="#555"/>
<rect x="-4.0" y="-4.3" width="1.3" height="1.5" stroke-width="0" fill="#111"/>
<rect x="2.4" y="-4.3" width="1.3" height="1.5" stroke-width="0" fill="#111"/>
<path d="M-1.8,-4.4 L-0.2,-6.2 L1.4,-4.4" stroke-width="0.45"/>
<path d="M-3.6,-4.2 L-9.8,-8 M-3,-4.6 L-6.4,-10.4 M-5,-3 L-10.8,-5" stroke-width="0.5" stroke="#333"/>
<path d="M3.2,-4.2 L9.4,-8 M2.6,-4.6 L6,-10.4 M4.6,-3 L10.4,-5" stroke-width="0.5" stroke="#333"/>
<path d="M-0.3,-2.6 V7.6" stroke-width="0.7" stroke="#aaa" stroke-dasharray="2 0.7"/>
</g>
</g>
<g transform="translate(265.5,194)">
<circle cx="0" cy="0" r="11.3" stroke-width="0.6" fill="#fff"/>
<g clip-path="url(#sc0)">
<rect x="-0.9" y="-12" width="3.5" height="9.7" stroke-width="0.3" stroke="#2a2a2a" fill="#4c4c4c"/><path d="M0.85,-11.4 V-2.7000000000000006" stroke-width="1.2999999999999998" stroke="#b4b4b4" stroke-dasharray="0.7 0.5"/>
<rect x="-0.9" y="2.3" width="3.5" height="10" stroke-width="0.3" stroke="#2a2a2a" fill="#4c4c4c"/><path d="M0.85,2.9 V11.9" stroke-width="1.2999999999999998" stroke="#b4b4b4" stroke-dasharray="0.7 0.5"/>
<rect x="-6.7" y="-4.9" width="1.7" height="9.6" stroke-width="0.5" stroke="#333"/>
<path d="M-5,-2.6 H-2.4 V2.4 H-5" stroke-width="0.5" stroke="#333"/>
<path d="M-9.4,0 H0.4" stroke-width="0.5" stroke="#333"/>
<path d="M2.8,3.4 H7.8 M2.8,5.4 H5.2 M6.8,3 V5.8 M4.6,3.4 V5.4" stroke-width="0.6" stroke="#777"/>
</g>
</g>
<g transform="translate(333.3,195.4)">
<circle cx="0" cy="0" r="11.3" stroke-width="0.6" fill="#fff"/>
<g clip-path="url(#sc0)">
<rect x="-12" y="-3.8" width="9.3" height="3.7" stroke-width="0.3" stroke="#2a2a2a" fill="#4c4c4c"/><path d="M-11.4,-1.9499999999999997 H-3.099999999999999" stroke-width="1.5" stroke="#b4b4b4" stroke-dasharray="0.7 0.5"/>
<rect x="1.9" y="-3.8" width="10" height="3.7" stroke-width="0.3" stroke="#2a2a2a" fill="#4c4c4c"/><path d="M2.5,-1.9499999999999997 H11.5" stroke-width="1.5" stroke="#b4b4b4" stroke-dasharray="0.7 0.5"/>
<path d="M-2.8,2.2 L-0.4,0.2 L2,2.2" stroke-width="0.6"/>
<path d="M-7.6,3.2 q1.6,-1.4 3.4,0 M4,3.2 q1.6,-1.4 3.4,0" stroke-width="0.55" stroke="#444"/>
<path d="M-3,6 V4 H2.6 V6 M-0.4,2.6 V5" stroke-width="0.5" stroke="#444"/>
<rect x="-5.4" y="6.1" width="10.2" height="1.5" stroke-width="0.5" stroke="#333"/>
</g>
</g>
<g transform="translate(30.8,240.3)">
<circle cx="0" cy="0" r="11.3" stroke-width="0.6" fill="#fff"/>
<g clip-path="url(#sc0)">
<rect x="-12" y="1.7" width="9" height="3.5" stroke-width="0.3" stroke="#2a2a2a" fill="#4c4c4c"/><path d="M-11.4,3.45 H-3.4" stroke-width="1.2999999999999998" stroke="#b4b4b4" stroke-dasharray="0.7 0.5"/>
<rect x="2.6" y="1.7" width="10" height="3.5" stroke-width="0.3" stroke="#2a2a2a" fill="#4c4c4c"/><path d="M3.2,3.45 H12.2" stroke-width="1.2999999999999998" stroke="#b4b4b4" stroke-dasharray="0.7 0.5"/>
<path d="M-3.3,1.7 V-3 M2.9,1.7 V-3" stroke-width="0.6"/>
<path d="M-3.4,-2.9 H3 M-3.4,-4.3 H3" stroke-width="0.35" stroke="#555"/>
<rect x="-4.0" y="-4.3" width="1.3" height="1.5" stroke-width="0" fill="#111"/>
<rect x="2.4" y="-4.3" width="1.3" height="1.5" stroke-width="0" fill="#111"/>
<path d="M-1.8,-4.4 L-0.2,-6.2 L1.4,-4.4" stroke-width="0.45"/>
<path d="M-3.6,-4.2 L-9.8,-8 M-3,-4.6 L-6.4,-10.4 M-5,-3 L-10.8,-5" stroke-width="0.5" stroke="#333"/>
<path d="M3.2,-4.2 L9.4,-8 M2.6,-4.6 L6,-10.4 M4.6,-3 L10.4,-5" stroke-width="0.5" stroke="#333"/>
<path d="M-0.3,-2.6 V7.6" stroke-width="0.7" stroke="#aaa" stroke-dasharray="2 0.7"/>
</g>
</g>
<g transform="translate(120.8,238.3)">
<circle cx="0" cy="0" r="11.3" stroke-width="0.6" fill="#fff"/>
<g clip-path="url(#sc0)">
<rect x="-0.9" y="-12" width="3.5" height="9.7" stroke-width="0.3" stroke="#2a2a2a" fill="#4c4c4c"/><path d="M0.85,-11.4 V-2.7000000000000006" stroke-width="1.2999999999999998" stroke="#b4b4b4" stroke-dasharray="0.7 0.5"/>
<rect x="-0.9" y="2.3" width="3.5" height="10" stroke-width="0.3" stroke="#2a2a2a" fill="#4c4c4c"/><path d="M0.85,2.9 V11.9" stroke-width="1.2999999999999998" stroke="#b4b4b4" stroke-dasharray="0.7 0.5"/>
<rect x="-6.7" y="-4.9" width="1.7" height="9.6" stroke-width="0.5" stroke="#333"/>
<path d="M-5,-2.6 H-2.4 V2.4 H-5" stroke-width="0.5" stroke="#333"/>
<path d="M-9.4,0 H0.4" stroke-width="0.5" stroke="#333"/>
<path d="M2.8,3.4 H7.8 M2.8,5.4 H5.2 M6.8,3 V5.8 M4.6,3.4 V5.4" stroke-width="0.6" stroke="#777"/>
</g>
</g>
<g transform="translate(177.3,353.8)">
<circle cx="0" cy="0" r="11.3" stroke-width="0.6" fill="#fff"/>
<g clip-path="url(#sc0)">
<rect x="-12" y="-3.8" width="9.3" height="3.7" stroke-width="0.3" stroke="#2a2a2a" fill="#4c4c4c"/><path d="M-11.4,-1.9499999999999997 H-3.099999999999999" stroke-width="1.5" stroke="#b4b4b4" stroke-dasharray="0.7 0.5"/>
<rect x="1.9" y="-3.8" width="10" height="3.7" stroke-width="0.3" stroke="#2a2a2a" fill="#4c4c4c"/><path d="M2.5,-1.9499999999999997 H11.5" stroke-width="1.5" stroke="#b4b4b4" stroke-dasharray="0.7 0.5"/>
<path d="M-2.8,2.2 L-0.4,0.2 L2,2.2" stroke-width="0.6"/>
<path d="M-7.6,3.2 q1.6,-1.4 3.4,0 M4,3.2 q1.6,-1.4 3.4,0" stroke-width="0.55" stroke="#444"/>
<path d="M-3,6 V4 H2.6 V6 M-0.4,2.6 V5" stroke-width="0.5" stroke="#444"/>
<rect x="-5.4" y="6.1" width="10.2" height="1.5" stroke-width="0.5" stroke="#333"/>
</g>
</g>
<g transform="translate(439.6,195.4)">
<circle cx="0" cy="0" r="11.3" stroke-width="0.6" fill="#fff"/>
<g clip-path="url(#sc0)">
<rect x="-12" y="1.7" width="9" height="3.5" stroke-width="0.3" stroke="#2a2a2a" fill="#4c4c4c"/><path d="M-11.4,3.45 H-3.4" stroke-width="1.2999999999999998" stroke="#b4b4b4" stroke-dasharray="0.7 0.5"/>
<rect x="2.6" y="1.7" width="10" height="3.5" stroke-width="0.3" stroke="#2a2a2a" fill="#4c4c4c"/><path d="M3.2,3.45 H12.2" stroke-width="1.2999999999999998" stroke="#b4b4b4" stroke-dasharray="0.7 0.5"/>
<path d="M-3.3,1.7 V-3 M2.9,1.7 V-3" stroke-width="0.6"/>
<path d="M-3.4,-2.9 H3 M-3.4,-4.3 H3" stroke-width="0.35" stroke="#555"/>
<rect x="-4.0" y="-4.3" width="1.3" height="1.5" stroke-width="0" fill="#111"/>
<rect x="2.4" y="-4.3" width="1.3" height="1.5" stroke-width="0" fill="#111"/>
<path d="M-1.8,-4.4 L-0.2,-6.2 L1.4,-4.4" stroke-width="0.45"/>
<path d="M-3.6,-4.2 L-9.8,-8 M-3,-4.6 L-6.4,-10.4 M-5,-3 L-10.8,-5" stroke-width="0.5" stroke="#333"/>
<path d="M3.2,-4.2 L9.4,-8 M2.6,-4.6 L6,-10.4 M4.6,-3 L10.4,-5" stroke-width="0.5" stroke="#333"/>
<path d="M-0.3,-2.6 V7.6" stroke-width="0.7" stroke="#aaa" stroke-dasharray="2 0.7"/>
</g>
</g>
<g transform="translate(487.6,196.1)">
<circle cx="0" cy="0" r="11.3" stroke-width="0.6" fill="#fff"/>
<g clip-path="url(#sc0)">
<rect x="-0.9" y="-12" width="3.5" height="9.7" stroke-width="0.3" stroke="#2a2a2a" fill="#4c4c4c"/><path d="M0.85,-11.4 V-2.7000000000000006" stroke-width="1.2999999999999998" stroke="#b4b4b4" stroke-dasharray="0.7 0.5"/>
<rect x="-0.9" y="2.3" width="3.5" height="10" stroke-width="0.3" stroke="#2a2a2a" fill="#4c4c4c"/><path d="M0.85,2.9 V11.9" stroke-width="1.2999999999999998" stroke="#b4b4b4" stroke-dasharray="0.7 0.5"/>
<rect x="-6.7" y="-4.9" width="1.7" height="9.6" stroke-width="0.5" stroke="#333"/>
<path d="M-5,-2.6 H-2.4 V2.4 H-5" stroke-width="0.5" stroke="#333"/>
<path d="M-9.4,0 H0.4" stroke-width="0.5" stroke="#333"/>
<path d="M2.8,3.4 H7.8 M2.8,5.4 H5.2 M6.8,3 V5.8 M4.6,3.4 V5.4" stroke-width="0.6" stroke="#777"/>
</g>
</g>
<g transform="translate(387.6,279.2)">
<circle cx="0" cy="0" r="11.3" stroke-width="0.6" fill="#fff"/>
<g clip-path="url(#sc0)">
<rect x="-0.9" y="-12" width="3.5" height="9.7" stroke-width="0.3" stroke="#2a2a2a" fill="#4c4c4c"/><path d="M0.85,-11.4 V-2.7000000000000006" stroke-width="1.2999999999999998" stroke="#b4b4b4" stroke-dasharray="0.7 0.5"/>
<rect x="-0.9" y="2.3" width="3.5" height="10" stroke-width="0.3" stroke="#2a2a2a" fill="#4c4c4c"/><path d="M0.85,2.9 V11.9" stroke-width="1.2999999999999998" stroke="#b4b4b4" stroke-dasharray="0.7 0.5"/>
<rect x="-6.7" y="-4.9" width="1.7" height="9.6" stroke-width="0.5" stroke="#333"/>
<path d="M-5,-2.6 H-2.4 V2.4 H-5" stroke-width="0.5" stroke="#333"/>
<path d="M-9.4,0 H0.4" stroke-width="0.5" stroke="#333"/>
<path d="M2.8,3.4 H7.8 M2.8,5.4 H5.2 M6.8,3 V5.8 M4.6,3.4 V5.4" stroke-width="0.6" stroke="#777"/>
</g>
</g>
<g transform="translate(578.6,310)">
<circle cx="0" cy="0" r="11.3" stroke-width="0.6" fill="#fff"/>
<g clip-path="url(#sc0)">
<rect x="-12" y="-3.8" width="9.3" height="3.7" stroke-width="0.3" stroke="#2a2a2a" fill="#4c4c4c"/><path d="M-11.4,-1.9499999999999997 H-3.099999999999999" stroke-width="1.5" stroke="#b4b4b4" stroke-dasharray="0.7 0.5"/>
<rect x="1.9" y="-3.8" width="10" height="3.7" stroke-width="0.3" stroke="#2a2a2a" fill="#4c4c4c"/><path d="M2.5,-1.9499999999999997 H11.5" stroke-width="1.5" stroke="#b4b4b4" stroke-dasharray="0.7 0.5"/>
<path d="M-2.8,2.2 L-0.4,0.2 L2,2.2" stroke-width="0.6"/>
<path d="M-7.6,3.2 q1.6,-1.4 3.4,0 M4,3.2 q1.6,-1.4 3.4,0" stroke-width="0.55" stroke="#444"/>
<path d="M-3,6 V4 H2.6 V6 M-0.4,2.6 V5" stroke-width="0.5" stroke="#444"/>
<rect x="-5.4" y="6.1" width="10.2" height="1.5" stroke-width="0.5" stroke="#333"/>
</g>
</g>
<g transform="translate(253.8,356.2)">
<circle cx="0" cy="0" r="11.3" stroke-width="0.6" fill="#fff"/>
<g clip-path="url(#sc0)">
<rect x="-12" y="1.7" width="9" height="3.5" stroke-width="0.3" stroke="#2a2a2a" fill="#4c4c4c"/><path d="M-11.4,3.45 H-3.4" stroke-width="1.2999999999999998" stroke="#b4b4b4" stroke-dasharray="0.7 0.5"/>
<rect x="2.6" y="1.7" width="10" height="3.5" stroke-width="0.3" stroke="#2a2a2a" fill="#4c4c4c"/><path d="M3.2,3.45 H12.2" stroke-width="1.2999999999999998" stroke="#b4b4b4" stroke-dasharray="0.7 0.5"/>
<path d="M-3.3,1.7 V-3 M2.9,1.7 V-3" stroke-width="0.6"/>
<path d="M-3.4,-2.9 H3 M-3.4,-4.3 H3" stroke-width="0.35" stroke="#555"/>
<rect x="-4.0" y="-4.3" width="1.3" height="1.5" stroke-width="0" fill="#111"/>
<rect x="2.4" y="-4.3" width="1.3" height="1.5" stroke-width="0" fill="#111"/>
<path d="M-1.8,-4.4 L-0.2,-6.2 L1.4,-4.4" stroke-width="0.45"/>
<path d="M-3.6,-4.2 L-9.8,-8 M-3,-4.6 L-6.4,-10.4 M-5,-3 L-10.8,-5" stroke-width="0.5" stroke="#333"/>
<path d="M3.2,-4.2 L9.4,-8 M2.6,-4.6 L6,-10.4 M4.6,-3 L10.4,-5" stroke-width="0.5" stroke="#333"/>
<path d="M-0.3,-2.6 V7.6" stroke-width="0.7" stroke="#aaa" stroke-dasharray="2 0.7"/>
</g>
</g>
<g transform="translate(301.5,355.4)">
<circle cx="0" cy="0" r="11.3" stroke-width="0.6" fill="#fff"/>
<g clip-path="url(#sc0)">
<rect x="-12" y="1.7" width="9" height="3.5" stroke-width="0.3" stroke="#2a2a2a" fill="#4c4c4c"/><path d="M-11.4,3.45 H-3.4" stroke-width="1.2999999999999998" stroke="#b4b4b4" stroke-dasharray="0.7 0.5"/>
<rect x="2.6" y="1.7" width="10" height="3.5" stroke-width="0.3" stroke="#2a2a2a" fill="#4c4c4c"/><path d="M3.2,3.45 H12.2" stroke-width="1.2999999999999998" stroke="#b4b4b4" stroke-dasharray="0.7 0.5"/>
<path d="M-3.3,1.7 V-3 M2.9,1.7 V-3" stroke-width="0.6"/>
<path d="M-3.4,-2.9 H3 M-3.4,-4.3 H3" stroke-width="0.35" stroke="#555"/>
<rect x="-4.0" y="-4.3" width="1.3" height="1.5" stroke-width="0" fill="#111"/>
<rect x="2.4" y="-4.3" width="1.3" height="1.5" stroke-width="0" fill="#111"/>
<path d="M-1.8,-4.4 L-0.2,-6.2 L1.4,-4.4" stroke-width="0.45"/>
<path d="M-3.6,-4.2 L-9.8,-8 M-3,-4.6 L-6.4,-10.4 M-5,-3 L-10.8,-5" stroke-width="0.5" stroke="#333"/>
<path d="M3.2,-4.2 L9.4,-8 M2.6,-4.6 L6,-10.4 M4.6,-3 L10.4,-5" stroke-width="0.5" stroke="#333"/>
<path d="M-0.3,-2.6 V7.6" stroke-width="0.7" stroke="#aaa" stroke-dasharray="2 0.7"/>
</g>
</g>
<g transform="translate(347.5,356.2)">
<circle cx="0" cy="0" r="11.3" stroke-width="0.6" fill="#fff"/>
<g clip-path="url(#sc0)">
<rect x="-0.9" y="-12" width="3.5" height="9.7" stroke-width="0.3" stroke="#2a2a2a" fill="#4c4c4c"/><path d="M0.85,-11.4 V-2.7000000000000006" stroke-width="1.2999999999999998" stroke="#b4b4b4" stroke-dasharray="0.7 0.5"/>
<rect x="-0.9" y="2.3" width="3.5" height="10" stroke-width="0.3" stroke="#2a2a2a" fill="#4c4c4c"/><path d="M0.85,2.9 V11.9" stroke-width="1.2999999999999998" stroke="#b4b4b4" stroke-dasharray="0.7 0.5"/>
<rect x="-6.7" y="-4.9" width="1.7" height="9.6" stroke-width="0.5" stroke="#333"/>
<path d="M-5,-2.6 H-2.4 V2.4 H-5" stroke-width="0.5" stroke="#333"/>
<path d="M-9.4,0 H0.4" stroke-width="0.5" stroke="#333"/>
<path d="M2.8,3.4 H7.8 M2.8,5.4 H5.2 M6.8,3 V5.8 M4.6,3.4 V5.4" stroke-width="0.6" stroke="#777"/>
</g>
</g>
<g transform="translate(381.7,469.7)">
<circle cx="0" cy="0" r="11.3" stroke-width="0.6" fill="#fff"/>
<g clip-path="url(#sc0)">
<rect x="-12" y="-3.8" width="9.3" height="3.7" stroke-width="0.3" stroke="#2a2a2a" fill="#4c4c4c"/><path d="M-11.4,-1.9499999999999997 H-3.099999999999999" stroke-width="1.5" stroke="#b4b4b4" stroke-dasharray="0.7 0.5"/>
<rect x="1.9" y="-3.8" width="10" height="3.7" stroke-width="0.3" stroke="#2a2a2a" fill="#4c4c4c"/><path d="M2.5,-1.9499999999999997 H11.5" stroke-width="1.5" stroke="#b4b4b4" stroke-dasharray="0.7 0.5"/>
<path d="M-2.8,2.2 L-0.4,0.2 L2,2.2" stroke-width="0.6"/>
<path d="M-7.6,3.2 q1.6,-1.4 3.4,0 M4,3.2 q1.6,-1.4 3.4,0" stroke-width="0.55" stroke="#444"/>
<path d="M-3,6 V4 H2.6 V6 M-0.4,2.6 V5" stroke-width="0.5" stroke="#444"/>
<rect x="-5.4" y="6.1" width="10.2" height="1.5" stroke-width="0.5" stroke="#333"/>
</g>
</g>
<g transform="translate(139.5,620.2)">
<circle cx="0" cy="0" r="11.3" stroke-width="0.6" fill="#fff"/>
<g clip-path="url(#sc0)">
<rect x="-0.9" y="-12" width="3.5" height="9.7" stroke-width="0.3" stroke="#2a2a2a" fill="#4c4c4c"/><path d="M0.85,-11.4 V-2.7000000000000006" stroke-width="1.2999999999999998" stroke="#b4b4b4" stroke-dasharray="0.7 0.5"/>
<rect x="-0.9" y="2.3" width="3.5" height="10" stroke-width="0.3" stroke="#2a2a2a" fill="#4c4c4c"/><path d="M0.85,2.9 V11.9" stroke-width="1.2999999999999998" stroke="#b4b4b4" stroke-dasharray="0.7 0.5"/>
<rect x="-6.7" y="-4.9" width="1.7" height="9.6" stroke-width="0.5" stroke="#333"/>
<path d="M-5,-2.6 H-2.4 V2.4 H-5" stroke-width="0.5" stroke="#333"/>
<path d="M-9.4,0 H0.4" stroke-width="0.5" stroke="#333"/>
<path d="M2.8,3.4 H7.8 M2.8,5.4 H5.2 M6.8,3 V5.8 M4.6,3.4 V5.4" stroke-width="0.6" stroke="#777"/>
</g>
</g>
<g transform="translate(209.9,605.6)">
<circle cx="0" cy="0" r="11.3" stroke-width="0.6" fill="#fff"/>
<g clip-path="url(#sc0)">
<rect x="-12" y="1.7" width="9" height="3.5" stroke-width="0.3" stroke="#2a2a2a" fill="#4c4c4c"/><path d="M-11.4,3.45 H-3.4" stroke-width="1.2999999999999998" stroke="#b4b4b4" stroke-dasharray="0.7 0.5"/>
<rect x="2.6" y="1.7" width="10" height="3.5" stroke-width="0.3" stroke="#2a2a2a" fill="#4c4c4c"/><path d="M3.2,3.45 H12.2" stroke-width="1.2999999999999998" stroke="#b4b4b4" stroke-dasharray="0.7 0.5"/>
<path d="M-3.3,1.7 V-3 M2.9,1.7 V-3" stroke-width="0.6"/>
<path d="M-3.4,-2.9 H3 M-3.4,-4.3 H3" stroke-width="0.35" stroke="#555"/>
<rect x="-4.0" y="-4.3" width="1.3" height="1.5" stroke-width="0" fill="#111"/>
<rect x="2.4" y="-4.3" width="1.3" height="1.5" stroke-width="0" fill="#111"/>
<path d="M-1.8,-4.4 L-0.2,-6.2 L1.4,-4.4" stroke-width="0.45"/>
<path d="M-3.6,-4.2 L-9.8,-8 M-3,-4.6 L-6.4,-10.4 M-5,-3 L-10.8,-5" stroke-width="0.5" stroke="#333"/>
<path d="M3.2,-4.2 L9.4,-8 M2.6,-4.6 L6,-10.4 M4.6,-3 L10.4,-5" stroke-width="0.5" stroke="#333"/>
<path d="M-0.3,-2.6 V7.6" stroke-width="0.7" stroke="#aaa" stroke-dasharray="2 0.7"/>
</g>
</g>
<g transform="translate(230,699.8)">
<circle cx="0" cy="0" r="11.3" stroke-width="0.6" fill="#fff"/>
<g clip-path="url(#sc0)">
<rect x="-12" y="-3.8" width="9.3" height="3.7" stroke-width="0.3" stroke="#2a2a2a" fill="#4c4c4c"/><path d="M-11.4,-1.9499999999999997 H-3.099999999999999" stroke-width="1.5" stroke="#b4b4b4" stroke-dasharray="0.7 0.5"/>
<rect x="1.9" y="-3.8" width="10" height="3.7" stroke-width="0.3" stroke="#2a2a2a" fill="#4c4c4c"/><path d="M2.5,-1.9499999999999997 H11.5" stroke-width="1.5" stroke="#b4b4b4" stroke-dasharray="0.7 0.5"/>
<path d="M-2.8,2.2 L-0.4,0.2 L2,2.2" stroke-width="0.6"/>
<path d="M-7.6,3.2 q1.6,-1.4 3.4,0 M4,3.2 q1.6,-1.4 3.4,0" stroke-width="0.55" stroke="#444"/>
<path d="M-3,6 V4 H2.6 V6 M-0.4,2.6 V5" stroke-width="0.5" stroke="#444"/>
<rect x="-5.4" y="6.1" width="10.2" height="1.5" stroke-width="0.5" stroke="#333"/>
</g>
</g>
<g transform="translate(435.7,603.4)">
<circle cx="0" cy="0" r="11.3" stroke-width="0.6" fill="#fff"/>
<g clip-path="url(#sc0)">
<rect x="-12" y="1.7" width="9" height="3.5" stroke-width="0.3" stroke="#2a2a2a" fill="#4c4c4c"/><path d="M-11.4,3.45 H-3.4" stroke-width="1.2999999999999998" stroke="#b4b4b4" stroke-dasharray="0.7 0.5"/>
<rect x="2.6" y="1.7" width="10" height="3.5" stroke-width="0.3" stroke="#2a2a2a" fill="#4c4c4c"/><path d="M3.2,3.45 H12.2" stroke-width="1.2999999999999998" stroke="#b4b4b4" stroke-dasharray="0.7 0.5"/>
<path d="M-3.3,1.7 V-3 M2.9,1.7 V-3" stroke-width="0.6"/>
<path d="M-3.4,-2.9 H3 M-3.4,-4.3 H3" stroke-width="0.35" stroke="#555"/>
<rect x="-4.0" y="-4.3" width="1.3" height="1.5" stroke-width="0" fill="#111"/>
<rect x="2.4" y="-4.3" width="1.3" height="1.5" stroke-width="0" fill="#111"/>
<path d="M-1.8,-4.4 L-0.2,-6.2 L1.4,-4.4" stroke-width="0.45"/>
<path d="M-3.6,-4.2 L-9.8,-8 M-3,-4.6 L-6.4,-10.4 M-5,-3 L-10.8,-5" stroke-width="0.5" stroke="#333"/>
<path d="M3.2,-4.2 L9.4,-8 M2.6,-4.6 L6,-10.4 M4.6,-3 L10.4,-5" stroke-width="0.5" stroke="#333"/>
<path d="M-0.3,-2.6 V7.6" stroke-width="0.7" stroke="#aaa" stroke-dasharray="2 0.7"/>
</g>
</g>
<g transform="translate(442,696)">
<circle cx="0" cy="0" r="11.3" stroke-width="0.6" fill="#fff"/>
<g clip-path="url(#sc0)">
<rect x="-12" y="-3.8" width="9.3" height="3.7" stroke-width="0.3" stroke="#2a2a2a" fill="#4c4c4c"/><path d="M-11.4,-1.9499999999999997 H-3.099999999999999" stroke-width="1.5" stroke="#b4b4b4" stroke-dasharray="0.7 0.5"/>
<rect x="1.9" y="-3.8" width="10" height="3.7" stroke-width="0.3" stroke="#2a2a2a" fill="#4c4c4c"/><path d="M2.5,-1.9499999999999997 H11.5" stroke-width="1.5" stroke="#b4b4b4" stroke-dasharray="0.7 0.5"/>
<path d="M-2.8,2.2 L-0.4,0.2 L2,2.2" stroke-width="0.6"/>
<path d="M-7.6,3.2 q1.6,-1.4 3.4,0 M4,3.2 q1.6,-1.4 3.4,0" stroke-width="0.55" stroke="#444"/>
<path d="M-3,6 V4 H2.6 V6 M-0.4,2.6 V5" stroke-width="0.5" stroke="#444"/>
<rect x="-5.4" y="6.1" width="10.2" height="1.5" stroke-width="0.5" stroke="#333"/>
</g>
</g>
<g transform="translate(512.9,674.9) scale(-1,1)">
<circle cx="0" cy="0" r="11.3" stroke-width="0.6" fill="#fff"/>
<g clip-path="url(#sc0)">
<rect x="-0.9" y="-12" width="3.5" height="9.7" stroke-width="0.3" stroke="#2a2a2a" fill="#4c4c4c"/><path d="M0.85,-11.4 V-2.7000000000000006" stroke-width="1.2999999999999998" stroke="#b4b4b4" stroke-dasharray="0.7 0.5"/>
<rect x="-0.9" y="2.3" width="3.5" height="10" stroke-width="0.3" stroke="#2a2a2a" fill="#4c4c4c"/><path d="M0.85,2.9 V11.9" stroke-width="1.2999999999999998" stroke="#b4b4b4" stroke-dasharray="0.7 0.5"/>
<rect x="-6.7" y="-4.9" width="1.7" height="9.6" stroke-width="0.5" stroke="#333"/>
<path d="M-5,-2.6 H-2.4 V2.4 H-5" stroke-width="0.5" stroke="#333"/>
<path d="M-9.4,0 H0.4" stroke-width="0.5" stroke="#333"/>
<path d="M2.8,3.4 H7.8 M2.8,5.4 H5.2 M6.8,3 V5.8 M4.6,3.4 V5.4" stroke-width="0.6" stroke="#777"/>
</g>
</g>
<g style="filter:grayscale(1)">
<text x="18" y="16.9" style="font-family:'Liberation Serif',serif;font-weight:bold;font-size:11px;font-size:11.6px" fill="#111" stroke="#111" stroke-width="0.25" textLength="351.5" lengthAdjust="spacing">GKF/GKAF/GKHF/GKAZ/GKHZ37~157,GKVF/GKVZ37~107</text>
<text x="316.7" y="80.4" style="font-family:'Liberation Serif',serif;font-weight:bold;font-size:11px;font-size:11.6px;letter-spacing:-0.1px" fill="#111" stroke="#111" stroke-width="0.3">M1</text>
<text x="105" y="195.4" style="font-family:'Liberation Serif',serif;font-weight:bold;font-size:11px;font-size:11.6px;letter-spacing:-0.1px" fill="#111" stroke="#111" stroke-width="0.3">M4<tspan dx="0.3" dy="-5.4" style="font-size:6px;font-weight:normal" stroke="none">*</tspan></text>
<text x="510.8" y="195.4" style="font-family:'Liberation Serif',serif;font-weight:bold;font-size:11px;font-size:11.6px;letter-spacing:-0.1px" fill="#111" stroke="#111" stroke-width="0.3">M2<tspan dx="0.3" dy="-5.4" style="font-size:6px;font-weight:normal" stroke="none">*</tspan></text>
<text x="280" y="475" style="font-family:'Liberation Serif',serif;font-weight:bold;font-size:11px;font-size:11.6px;letter-spacing:-0.1px" fill="#111" stroke="#111" stroke-width="0.3">M3<tspan dx="0.3" dy="-5.4" style="font-size:6px;font-weight:normal" stroke="none">*</tspan></text>
<text x="141.7" y="561.8" style="font-family:'Liberation Serif',serif;font-weight:bold;font-size:11px;font-size:11.6px;letter-spacing:-0.1px" fill="#111" stroke="#111" stroke-width="0.3">M5<tspan dx="0.3" dy="-5.4" style="font-size:6px;font-weight:normal" stroke="none">*</tspan></text>
<text x="451.8" y="561.8" style="font-family:'Liberation Serif',serif;font-weight:bold;font-size:11px;font-size:11.6px;letter-spacing:-0.1px" fill="#111" stroke="#111" stroke-width="0.3">M6<tspan dx="0.3" dy="-5.4" style="font-size:6px;font-weight:normal" stroke="none">*</tspan></text>
<text x="377.3" y="302.6" style="font-family:'Liberation Serif',serif;font-size:8.8px;letter-spacing:0.95px" fill="#222" stroke="none">Gk47</text>
</g>
</svg>
</body></html>
